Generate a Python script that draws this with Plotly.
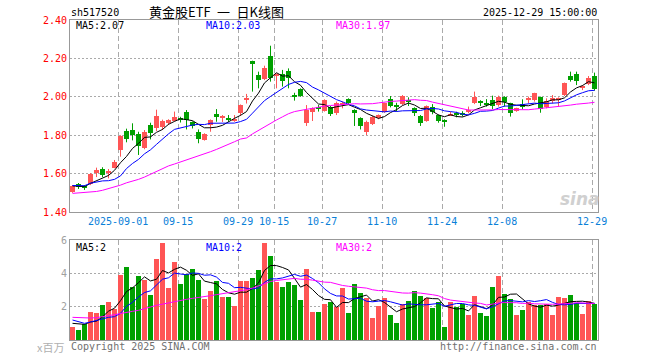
import pandas as pd
import plotly.graph_objects as go

# ---------------- data ----------------
holidays = ["2025-10-01", "2025-10-02", "2025-10-03", "2025-10-06", "2025-10-07", "2025-10-08"]
dates = [d.strftime("%Y-%m-%d") for d in pd.bdate_range("2025-08-20", "2025-12-29")
         if d.strftime("%Y-%m-%d") not in holidays]

opens = [1.506, 1.544, 1.535, 1.544, 1.605, 1.624, 1.605, 1.631, 1.723, 1.822,
         1.829, 1.806, 1.732, 1.853, 1.836, 1.844, 1.865, 1.876, 1.889, 1.922,
         1.868, 1.818, 1.775, 1.851, 1.910, 1.891, 1.889, 1.876, 1.914, 1.987,
         2.186, 2.113, 2.093, 2.214, 2.110, 2.119, 2.133, 2.009, 2.039, 1.865,
         1.923, 1.945, 1.926, 1.945, 1.914, 1.956, 1.988, 1.931, 1.888, 1.818,
         1.858, 1.888, 1.923, 1.987, 1.957, 1.962, 1.983, 1.940, 1.900, 1.874,
         1.945, 1.905, 1.876, 1.905, 1.914, 1.917, 1.921, 1.966, 1.980, 1.969,
         1.985, 1.957, 1.999, 1.966, 1.926, 1.962, 1.983, 1.983, 1.997, 1.949,
         1.978, 1.987, 2.009, 2.110, 2.119, 2.048, 2.067, 2.108]
highs = [1.540, 1.551, 1.540, 1.603, 1.631, 1.633, 1.624, 1.671, 1.800, 1.834,
         1.862, 1.818, 1.827, 1.865, 1.933, 1.881, 1.883, 1.923, 1.896, 1.931,
         1.872, 1.830, 1.810, 1.882, 1.936, 1.905, 1.905, 1.905, 1.960, 2.015,
         2.188, 2.131, 2.162, 2.266, 2.122, 2.140, 2.148, 2.021, 2.044, 1.957,
         1.945, 1.957, 1.987, 1.952, 1.975, 1.975, 1.992, 1.935, 1.893, 1.876,
         1.900, 1.908, 1.969, 2.004, 1.969, 2.009, 1.997, 1.945, 1.905, 1.955,
         1.962, 1.908, 1.883, 1.922, 1.922, 1.925, 1.949, 2.027, 1.982, 1.988,
         2.006, 2.006, 2.003, 1.969, 1.943, 1.987, 2.001, 2.021, 2.001, 1.992,
         2.009, 1.997, 2.074, 2.131, 2.131, 2.061, 2.108, 2.126]
lows = [1.500, 1.520, 1.515, 1.540, 1.582, 1.582, 1.575, 1.628, 1.688, 1.763,
        1.773, 1.697, 1.727, 1.778, 1.822, 1.827, 1.853, 1.871, 1.866, 1.830,
        1.835, 1.758, 1.772, 1.818, 1.870, 1.869, 1.870, 1.870, 1.900, 1.965,
        2.027, 2.044, 2.087, 2.079, 2.044, 2.053, 2.044, 1.980, 2.000, 1.848,
        1.874, 1.923, 1.923, 1.900, 1.905, 1.940, 1.957, 1.848, 1.830, 1.801,
        1.853, 1.883, 1.917, 1.945, 1.923, 1.957, 1.952, 1.900, 1.848, 1.870,
        1.909, 1.865, 1.844, 1.900, 1.893, 1.897, 1.914, 1.962, 1.952, 1.949,
        1.935, 1.949, 1.949, 1.897, 1.922, 1.935, 1.966, 1.975, 1.917, 1.940,
        1.966, 1.949, 2.004, 2.079, 2.061, 2.035, 2.061, 2.032]
closes = [1.537, 1.532, 1.528, 1.600, 1.619, 1.593, 1.612, 1.662, 1.798, 1.782,
          1.801, 1.744, 1.818, 1.810, 1.902, 1.876, 1.877, 1.895, 1.878, 1.879,
          1.850, 1.780, 1.806, 1.879, 1.896, 1.896, 1.882, 1.886, 1.957, 1.994,
          2.172, 2.087, 2.152, 2.096, 2.120, 2.084, 2.096, 1.997, 2.004, 1.931,
          1.940, 1.940, 1.983, 1.909, 1.969, 1.969, 1.966, 1.917, 1.848, 1.870,
          1.896, 1.905, 1.966, 1.952, 1.945, 2.004, 1.971, 1.914, 1.862, 1.952,
          1.923, 1.876, 1.869, 1.912, 1.907, 1.910, 1.931, 1.997, 1.969, 1.962,
          1.954, 2.001, 1.973, 1.914, 1.940, 1.945, 1.995, 2.018, 1.935, 1.978,
          1.995, 1.995, 2.070, 2.088, 2.084, 2.056, 2.096, 2.039]
volumes = [0.80, 0.60, 0.96, 1.68, 1.62, 2.10, 2.28, 1.86, 3.92, 4.38,
           3.20, 3.84, 3.60, 2.70, 4.88, 5.82, 3.12, 4.68, 3.36, 3.94,
           4.28, 3.60, 2.48, 2.94, 3.54, 2.60, 2.60, 2.06, 3.54, 3.54,
           3.74, 4.22, 5.82, 5.04, 3.50, 3.18, 3.48, 3.30, 2.40, 4.28,
           1.68, 1.68, 2.16, 2.28, 2.00, 3.14, 1.64, 3.36, 2.82, 2.52,
           1.34, 2.06, 2.52, 1.52, 1.04, 2.16, 2.34, 2.96, 2.66, 2.52,
           1.94, 2.28, 0.80, 2.28, 1.98, 2.14, 1.52, 2.66, 1.62, 1.46,
           3.20, 3.86, 2.76, 2.46, 1.52, 1.82, 2.28, 2.10, 2.12, 2.14,
           1.52, 2.60, 2.54, 2.70, 2.22, 1.58, 2.34, 2.16]

# moving-average values visible before each window is complete
ma5_head = [1.536, 1.535, 1.532, 1.549]
ma10_head = [1.538, 1.538, 1.537, 1.550, 1.556, 1.562, 1.563, 1.570, 1.588]
ma30_head = [1.497, 1.499, 1.502, 1.504, 1.507, 1.513, 1.521, 1.532, 1.540, 1.552,
             1.560, 1.570, 1.582, 1.597, 1.612, 1.625, 1.640, 1.650, 1.660, 1.672,
             1.684, 1.694, 1.704, 1.714, 1.726, 1.738, 1.750, 1.766, 1.780]
vma5_head = [1.00, 0.96, 0.94, 1.08]
vma10_head = [1.20, 1.10, 1.00, 1.08, 1.18, 1.26, 1.36, 1.40, 1.60]
vma30_head = [1.36, 1.34, 1.32, 1.32, 1.34, 1.38, 1.46, 1.52, 1.60, 1.66,
              1.72, 1.78, 1.86, 1.98, 2.08, 2.16, 2.24, 2.32, 2.40, 2.44,
              2.50, 2.54, 2.60, 2.66, 2.72, 2.78, 2.82, 2.88, 2.92]

tick_dates = ["2025-09-01", "2025-09-15", "2025-09-29", "2025-10-15", "2025-10-27",
              "2025-11-10", "2025-11-24", "2025-12-08", "2025-12-29"]
tick_labels = ["2025-09-01", "09-15", "09-29", "10-15", "10-27",
               "11-10", "11-24", "12-08", "12-29"]
price_ticks = [1.40, 1.60, 1.80, 2.00, 2.20, 2.40]
vol_ticks = [2, 4, 6]

# ---------------- derived ----------------
n = len(closes)
idx = list(range(n))


def moving(values, w, head):
    s = pd.Series(values).rolling(w).mean().tolist()
    return head + s[len(head):]


ma5 = moving(closes, 5, ma5_head)
ma10 = moving(closes, 10, ma10_head)
ma30 = moving(closes, 30, ma30_head)
vma5 = moving(volumes, 5, vma5_head)
vma10 = moving(volumes, 10, vma10_head)
vma30 = moving(volumes, 30, vma30_head)

RED = "#ff5555"
GREEN = "#00a000"
up = [c >= o for o, c in zip(opens, closes)]

fig = go.Figure()


def wick_xy(sel):
    xs, ys = [], []
    for i in idx:
        if sel(i):
            xs += [i, i, None]
            ys += [lows[i], highs[i], None]
    return xs, ys


for is_up, col in [(True, RED), (False, GREEN)]:
    wx, wy = wick_xy(lambda i: up[i] == is_up)
    fig.add_trace(go.Scatter(x=wx, y=wy, mode="lines", line=dict(color=col, width=1),
                             hoverinfo="skip", xaxis="x", yaxis="y"))
    sel = [i for i in idx if up[i] == is_up]
    fig.add_trace(go.Bar(
        x=sel,
        y=[max(abs(closes[i] - opens[i]), 0.004) for i in sel],
        base=[min(opens[i], closes[i]) for i in sel],
        width=5 / 6, marker=dict(color=col, line=dict(width=0)),
        xaxis="x", yaxis="y"))
    fig.add_trace(go.Bar(
        x=sel, y=[volumes[i] for i in sel], width=5 / 6,
        marker=dict(color=col, line=dict(width=0)), xaxis="x2", yaxis="y2"))

for series, col in [(ma5, "#000000"), (ma10, "#0000ff"), (ma30, "#ff00ff")]:
    fig.add_trace(go.Scatter(x=idx, y=series, mode="lines", line=dict(color=col, width=1),
                             xaxis="x", yaxis="y"))
for series, col in [(vma5, "#000000"), (vma10, "#0000ff"), (vma30, "#ff00ff")]:
    fig.add_trace(go.Scatter(x=idx, y=series, mode="lines", line=dict(color=col, width=1),
                             xaxis="x2", yaxis="y2"))

tickpos = [dates.index(d) - 0.4 for d in tick_dates]
MONO = "DejaVu Sans Mono"
FRAME = "#999999"
GRID = "#aaaaaa"
xr = [-2.5 / 6, n - 2.5 / 6]

common_x = dict(range=xr, tickvals=tickpos, showgrid=True, gridcolor=GRID, griddash="5px,3px",
                gridwidth=1, showline=True, mirror=True, linecolor=FRAME, linewidth=1,
                zeroline=False, ticks="", fixedrange=True)

fig.update_layout(
    width=660, height=360,
    margin=dict(l=70, r=62, t=20, b=20),
    paper_bgcolor="white", plot_bgcolor="white",
    showlegend=False, barmode="overlay", bargap=0,
    xaxis=dict(common_x, domain=[0, 1], anchor="y", ticktext=tick_labels,
               tickfont=dict(family=MONO, size=10, color="#0a80d8")),
    xaxis2=dict(common_x, domain=[0, 1], anchor="y2", showticklabels=False),
    yaxis=dict(domain=[0.4, 1], range=[1.4, 2.4], tickvals=price_ticks,
               ticktext=[f"{v:.2f}" for v in price_ticks],
               tickfont=dict(family=MONO, size=10, color="#ff0000"),
               showgrid=True, gridcolor=GRID, griddash="2px,2px", showline=True, mirror=True,
               linecolor=FRAME, zeroline=False, ticks="", anchor="x", fixedrange=True),
    yaxis2=dict(domain=[0, 0.3125], range=[0, 6], tickvals=vol_ticks,
                ticktext=[str(v) for v in vol_ticks],
                tickfont=dict(family=MONO, size=10, color="#a0a0a0"),
                showgrid=True, gridcolor=GRID, griddash="2px,2px", showline=True, mirror=True,
                linecolor=FRAME, zeroline=False, ticks="", anchor="x2", fixedrange=True),
)


def px(xp):
    return (xp - 70) / 528


def py(yp):
    return (340 - yp) / 320


def note(text, x, y, color="#000000", size=10, family=MONO, anchor="left"):
    fig.add_annotation(text=text, x=px(x), y=py(y), xref="paper", yref="paper",
                       xanchor=anchor, yanchor="middle", showarrow=False,
                       font=dict(family=family, size=size, color=color))


note("sh517520", 69, 13)
note("黄金股ETF\u2002一\u2002日K线图", 216, 11.5, size=13, family="Noto Sans CJK SC", anchor="center")
note("2025-12-29 15:00:00", 599, 12.5, anchor="right")
note(f"MA5:{ma5[-1]:.2f}", 74, 25.5)
note(f"MA10:{ma10[-1]:.2f}", 204, 25.5, color="#0000ff")
note(f"MA30:{ma30[-1]:.2f}", 334, 25.5, color="#ff00ff")
note(f"MA5:{vma5[-1]:.0f}", 74, 247)
note(f"MA10:{vma10[-1]:.0f}", 204, 247, color="#0000ff")
note(f"MA30:{vma30[-1]:.0f}", 334, 247, color="#ff00ff")
note("Copyright 2025 SINA.COM", 69, 346, color="#707070")
note("http://finance.sina.com.cn", 599, 346, color="#707070", anchor="right")
note("x百万", 66, 347, color="#b0b0b0", size=11, family="Noto Sans CJK SC", anchor="right")
note("<b><i>sina</i></b>", 580, 199, color="#d0d0d0", size=17, family="DejaVu Sans", anchor="center")

fig.write_html("out.html", config={"displayModeBar": False},
               post_script="document.body.style.margin='0';document.body.style.overflow='hidden';")
